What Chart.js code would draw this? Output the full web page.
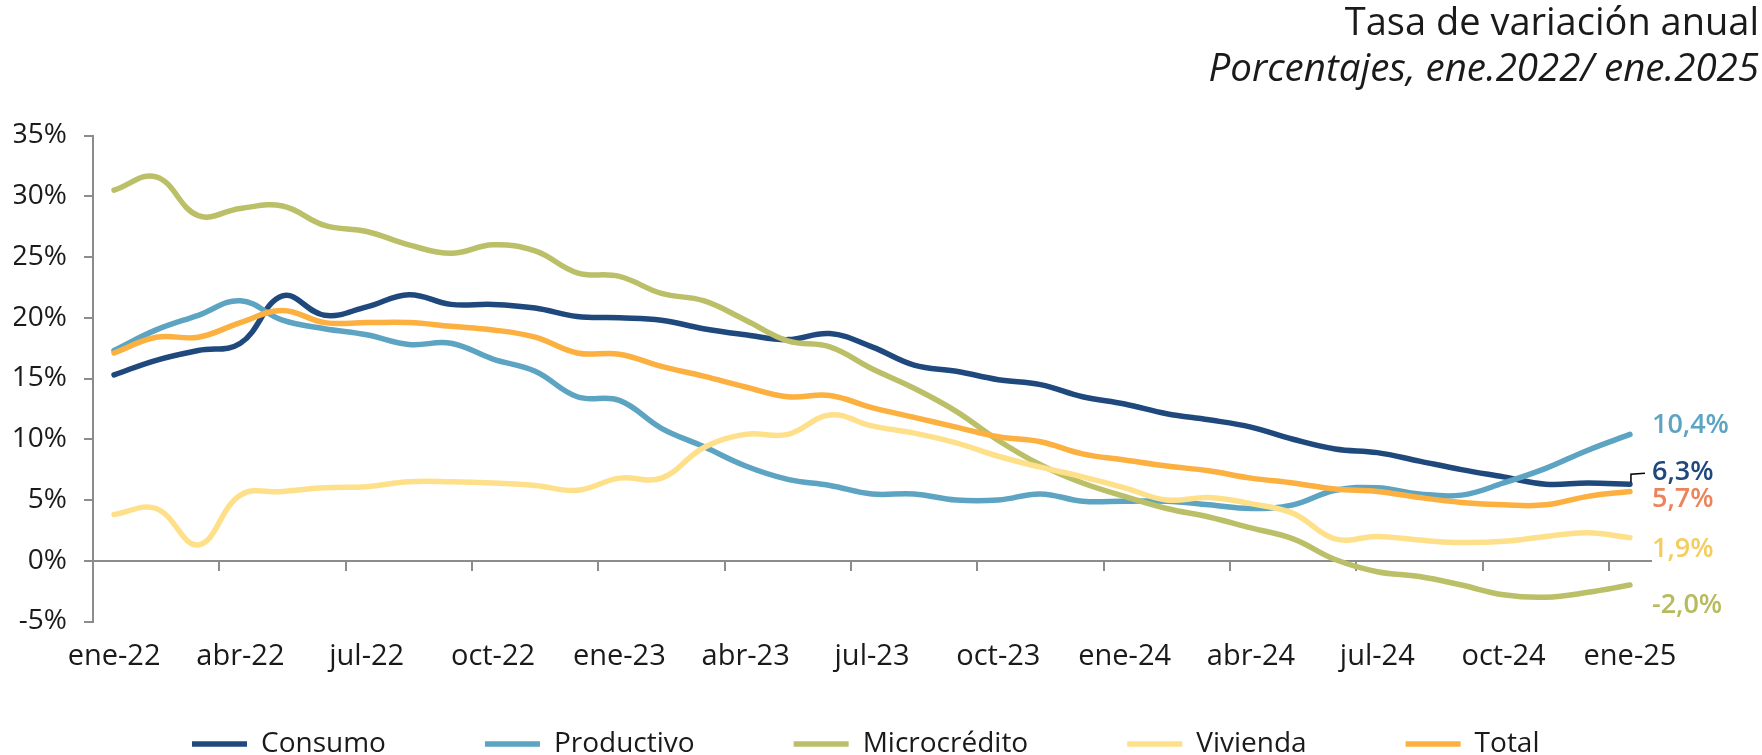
<!DOCTYPE html>
<html>
<head>
<meta charset="utf-8">
<script src="https://cdn.jsdelivr.net/npm/chart.js@4/dist/chart.umd.min.js"></script>
<style>
html, body { margin: 0; padding: 0; background: #fff; overflow: hidden; }
</style>
</head>
<body>
<canvas id="grafico" width="1762" height="768"></canvas>
<script>
// meses ene-22 .. ene-25
const meses = [
  'ene-22','feb-22','mar-22','abr-22','may-22','jun-22','jul-22','ago-22','sep-22','oct-22','nov-22','dic-22',
  'ene-23','feb-23','mar-23','abr-23','may-23','jun-23','jul-23','ago-23','sep-23','oct-23','nov-23','dic-23',
  'ene-24','feb-24','mar-24','abr-24','may-24','jun-24','jul-24','ago-24','sep-24','oct-24','nov-24','dic-24',
  'ene-25'
];

// tasas de variacion anual (%)
const consumo = [15.3, 16.5, 17.3, 17.9, 21.8, 20.2, 20.9, 21.9, 21.1, 21.1, 20.8, 20.1,
  20.0, 19.8, 19.1, 18.6, 18.2, 18.7, 17.6, 16.1, 15.6, 14.9, 14.5, 13.5,
  12.9, 12.1, 11.6, 11.0, 10.0, 9.2, 8.9, 8.2, 7.5, 6.9, 6.3, 6.4, 6.3];
const productivo = [17.3, 19.0, 20.2, 21.4, 19.8, 19.1, 18.6, 17.8, 17.9, 16.6, 15.6, 13.5,
  13.2, 10.9, 9.4, 7.8, 6.7, 6.2, 5.5, 5.5, 5.0, 5.0, 5.5, 4.9,
  4.9, 4.9, 4.6, 4.3, 4.6, 5.8, 6.0, 5.5, 5.4, 6.4, 7.6, 9.1, 10.4];
const microcredito = [30.5, 31.6, 28.4, 29.0, 29.2, 27.6, 27.1, 26.0, 25.3, 26.0, 25.5, 23.7,
  23.4, 22.0, 21.4, 19.8, 18.1, 17.6, 15.8, 14.2, 12.3, 9.9, 7.9, 6.4,
  5.3, 4.3, 3.6, 2.7, 1.8, 0.1, -0.9, -1.3, -2.0, -2.8, -3.0, -2.6, -2.0];
const vivienda = [3.8, 4.3, 1.3, 5.4, 5.7, 6.0, 6.1, 6.5, 6.5, 6.4, 6.2, 5.8,
  6.8, 6.8, 9.3, 10.4, 10.4, 12.0, 11.1, 10.5, 9.7, 8.6, 7.7, 6.9,
  6.0, 5.0, 5.2, 4.7, 3.9, 1.8, 2.0, 1.7, 1.5, 1.6, 2.0, 2.3, 1.9];
const total = [17.1, 18.4, 18.4, 19.6, 20.6, 19.6, 19.6, 19.6, 19.3, 19.0, 18.4, 17.1,
  17.0, 16.0, 15.2, 14.3, 13.5, 13.6, 12.6, 11.8, 11.0, 10.2, 9.8, 8.8,
  8.3, 7.8, 7.4, 6.8, 6.4, 5.9, 5.7, 5.2, 4.8, 4.6, 4.6, 5.3, 5.7];

const yTicks = [-5, 0, 5, 10, 15, 20, 25, 30, 35];

const fuente = "'Open Sans', sans-serif";
const gris = '#8c8c8c';
const negro = '#1a1a1a';

// etiquetas del ultimo dato, al final de cada linea
const etiquetasFin = {
  id: 'etiquetasFin',
  afterDatasetsDraw(chart) {
    const c = chart.ctx;
    chart.data.datasets.forEach((ds, i) => {
      const meta = chart.getDatasetMeta(i);
      const p = meta.data[meta.data.length - 1];
      const v = ds.data[ds.data.length - 1];
      const texto = v.toFixed(1).replace('.', ',') + '%';
      c.save();
      if (ds.guia) {
        c.strokeStyle = '#000';
        c.lineWidth = 1.5;
        c.beginPath();
        c.moveTo(p.x + 1, p.y - 2);
        c.lineTo(p.x + 1, p.y - 10);
        c.lineTo(p.x + 15, p.y - 11);
        c.stroke();
      }
      c.font = '600 27px ' + fuente;
      c.fillStyle = ds.colorEtiqueta;
      c.textBaseline = 'middle';
      c.textAlign = 'left';
      c.fillText(texto, p.x + 22, p.y + ds.desplEtiqueta);
      c.restore();
    });
  }
};

const linea = (label, data, color, orden, colorEtiqueta, despl, guia) => ({
  label: label,
  data: data,
  borderColor: color,
  backgroundColor: color,
  borderWidth: 5.5,
  borderCapStyle: 'round',
  borderJoinStyle: 'round',
  pointRadius: 0,
  pointHoverRadius: 0,
  tension: 0.4,
  fill: false,
  order: orden,
  colorEtiqueta: colorEtiqueta,
  desplEtiqueta: despl,
  guia: guia
});

const ctx = document.getElementById('grafico').getContext('2d');
const grafico = new Chart(ctx, {
  type: 'line',
  data: {
    labels: meses,
    datasets: [
      linea('Consumo', consumo, '#1F497D', 5, '#1F497D', -12, true),
      linea('Productivo', productivo, '#5DA4C3', 4, '#5DA4C3', -9, false),
      linea('Microcrédito', microcredito, '#BBBF67', 3, '#B7BB5E', 20, false),
      linea('Vivienda', vivienda, '#FFE08A', 2, '#F4CD5E', 12, false),
      linea('Total', total, '#FBB040', 1, '#EC835A', 8, false)
    ]
  },
  options: {
    responsive: false,
    devicePixelRatio: 1,
    animation: false,
    layout: { padding: { left: 14, right: 3, top: 0, bottom: 0 } },
    scales: {
      x: {
        type: 'category',
        offset: true,
        position: { y: 0 },
        grid: {
          offset: true,
          drawOnChartArea: false,
          drawTicks: true,
          tickLength: 9,
          lineWidth: 2,
          color: (c) => (c.index % 3 === 0 && c.index < meses.length) ? gris : 'rgba(0,0,0,0)'
        },
        border: { display: true, color: gris, width: 2 },
        ticks: { display: false, autoSkip: false }
      },
      x2: {
        type: 'category',
        offset: true,
        position: { y: -5 },
        grid: { display: false, drawTicks: false },
        border: { display: false },
        ticks: {
          autoSkip: false,
          maxRotation: 0,
          padding: 18,
          color: negro,
          font: { family: fuente, size: 29 },
          callback: function(v, i) { return i % 3 === 0 ? meses[i] : ''; }
        }
      },
      y: {
        position: 'left',
        min: -5,
        max: 35,
        afterBuildTicks: (s) => { s.ticks = yTicks.map(v => ({ value: v })); },
        afterFit: (s) => { s.width = 79; },
        grid: { drawOnChartArea: false, drawTicks: true, tickLength: 9, lineWidth: 2, color: gris },
        border: { display: true, color: gris, width: 2 },
        ticks: {
          padding: 17,
          color: negro,
          font: { family: fuente, size: 28 },
          callback: (v) => v + '%'
        }
      },
      y2: {
        position: 'right',
        grid: { display: false },
        border: { display: false },
        ticks: { display: false },
        afterFit: (s) => { s.width = 108; }
      }
    },
    plugins: {
      title: {
        display: true,
        text: 'Tasa de variación anual',
        align: 'end',
        color: negro,
        font: { family: fuente, size: 38, weight: 'normal', lineHeight: 1.2 },
        padding: { top: 1, bottom: 0 }
      },
      subtitle: {
        display: true,
        text: 'Porcentajes, ene.2022/ ene.2025',
        align: 'end',
        color: negro,
        font: { family: fuente, size: 38.5, style: 'italic', weight: 'normal', lineHeight: 1.2 },
        padding: { top: 0, bottom: 42.7 }
      },
      legend: {
        position: 'bottom',
        align: 'start',
        fullSize: false,
        title: { display: true, text: '', padding: 0, font: { size: 10, lineHeight: 0.95 } },
        labels: {
          usePointStyle: true,
          pointStyle: 'line',
          pointStyleWidth: 55,
          padding: 99,
          color: negro,
          font: { family: fuente, size: 28 },
          sort: (a, b) => a.datasetIndex - b.datasetIndex
        }
      },
      tooltip: { enabled: false }
    }
  },
  plugins: [etiquetasFin]
});
</script>
</body>
</html>
